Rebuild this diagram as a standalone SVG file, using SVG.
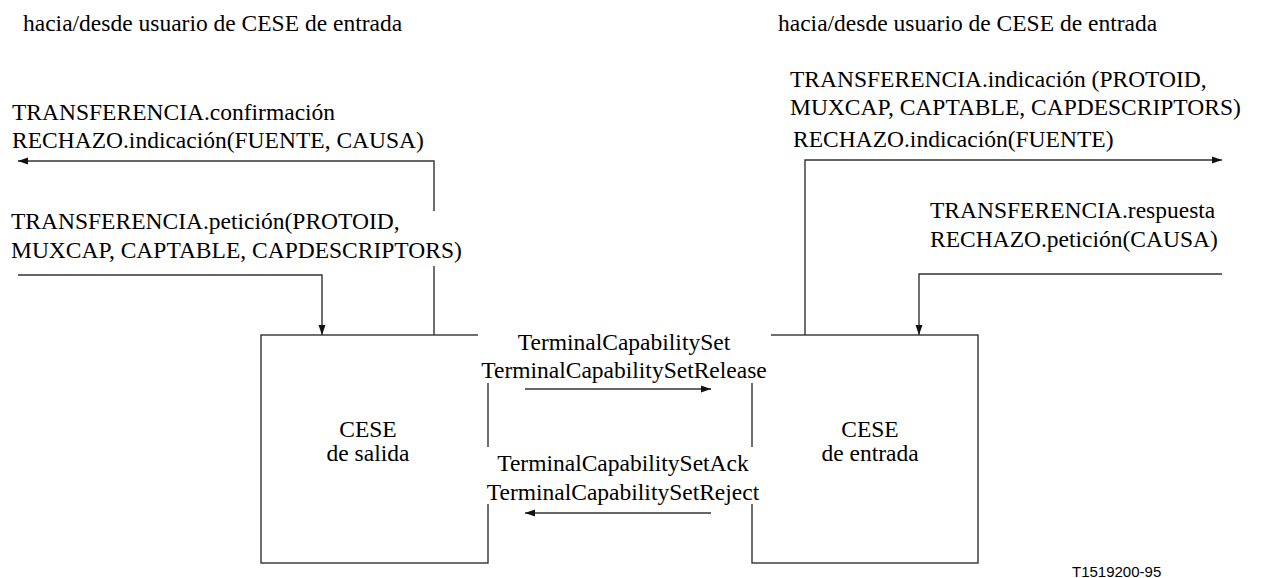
<svg xmlns="http://www.w3.org/2000/svg" width="1263" height="578" viewBox="0 0 1263 578">
<style>
text{font-family:"Liberation Serif","Times New Roman",serif;font-size:23.5px;fill:#000}
.c{text-anchor:middle}
.small{font-family:"Liberation Sans",Arial,sans-serif;font-size:15px}
.ln{fill:none;stroke:#333;stroke-width:1.4}
.box{fill:none;stroke:#333;stroke-width:1.4}
.bg{fill:#fff;stroke:none}
</style>
<defs>
<marker id="ah" viewBox="0 0 10 8" refX="10" refY="4" markerWidth="10" markerHeight="8" markerUnits="userSpaceOnUse" orient="auto">
<path d="M0,0.5 L10,4 L0,7.5 Z" fill="#111"/>
</marker>
</defs>
<g id="boxes">
<g id="cese-salida">
<rect class="box" x="261" y="335" width="227" height="228"/>
<text class="c" x="368" y="437">CESE</text>
<text class="c" x="368" y="461">de salida</text>
</g>
<g id="cese-entrada">
<rect class="box" x="752" y="335" width="226" height="228"/>
<text class="c" x="870" y="437">CESE</text>
<text class="c" x="870" y="461">de entrada</text>
</g>
</g>
<g id="connectors">
<path class="ln" d="M434,335 V161 H18" marker-end="url(#ah)"/>
<path class="ln" d="M18,275 H322 V335" marker-end="url(#ah)"/>
<path class="ln" d="M805,335 V160 H1222" marker-end="url(#ah)"/>
<path class="ln" d="M1222,274 H919 V335" marker-end="url(#ah)"/>
<path class="ln" d="M525,389 H711" marker-end="url(#ah)"/>
<path class="ln" d="M711,513 H525" marker-end="url(#ah)"/>
</g>
<g id="labels">
<text x="23" y="31">hacia/desde usuario de CESE de entrada</text>
<text x="778" y="31">hacia/desde usuario de CESE de entrada</text>
<g id="lbl-confirm">
<text x="12" y="120">TRANSFERENCIA.confirmación</text>
<text x="12" y="148">RECHAZO.indicación(FUENTE, CAUSA)</text>
</g>
<g id="lbl-peticion">
<rect class="bg" x="5" y="211" width="440" height="55"/>
<text x="11" y="229">TRANSFERENCIA.petición(PROTOID,</text>
<text x="11" y="258">MUXCAP, CAPTABLE, CAPDESCRIPTORS)</text>
</g>
<g id="lbl-indicacion">
<text x="790" y="87">TRANSFERENCIA.indicación (PROTOID,</text>
<text x="790" y="115">MUXCAP, CAPTABLE, CAPDESCRIPTORS)</text>
<text x="793" y="147">RECHAZO.indicación(FUENTE)</text>
</g>
<g id="lbl-respuesta">
<text x="930" y="218">TRANSFERENCIA.respuesta</text>
<text x="930" y="247">RECHAZO.petición(CAUSA)</text>
</g>
<g id="lbl-tcs">
<rect class="bg" x="478" y="329" width="293" height="54"/>
<text class="c" x="624" y="350">TerminalCapabilitySet</text>
<text class="c" x="624" y="378">TerminalCapabilitySetRelease</text>
</g>
<g id="lbl-ack">
<rect class="bg" x="478" y="447" width="293" height="57"/>
<text class="c" x="623" y="471">TerminalCapabilitySetAck</text>
<text class="c" x="623" y="500">TerminalCapabilitySetReject</text>
</g>
<text class="small" x="1072" y="577">T1519200-95</text>
</g>
</svg>
